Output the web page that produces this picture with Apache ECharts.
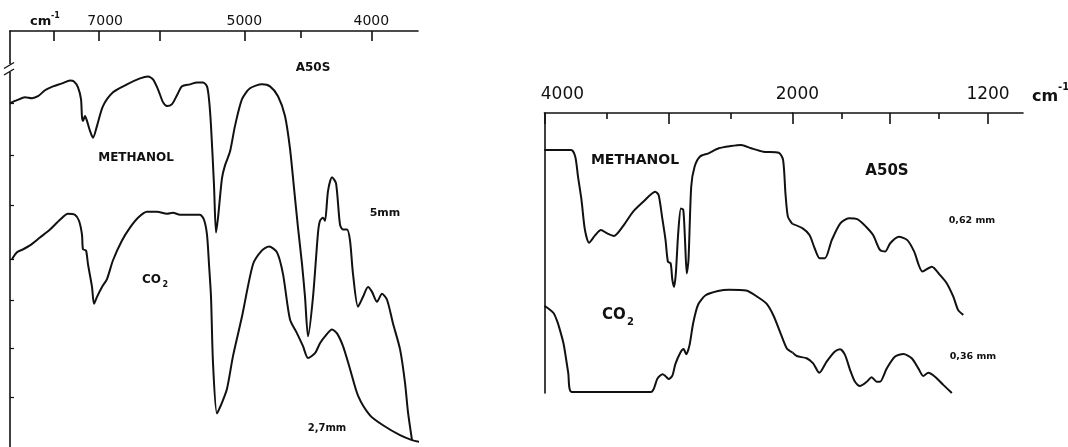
<!DOCTYPE html>
<html><head><meta charset="utf-8">
<script src="https://cdn.jsdelivr.net/npm/echarts@6/dist/echarts.min.js"></script>
<style>html,body{margin:0;padding:0;background:#fff}#c{width:1068px;height:447px}</style>
</head><body><div id="c"></div>
<script>
// ---------- Left panel (A50S, 5 mm / 2,7 mm) : x = wavelength (µm), the recorder axis is linear in wavelength ----------
const leftMethanolWavelength = [1.0776,1.1051,1.1366,1.1642,1.1878,1.2154,1.2469,1.2823,1.3138,1.3295,1.3453,1.3571,1.3610,1.3650,1.3728,1.3807,1.3925,1.4043,1.4201,1.4437,1.4831,1.5382,1.5894,1.6209,1.6406,1.6602,1.6799,1.6957,1.7154,1.7350,1.7547,1.7862,1.8138,1.8374,1.8531,1.8610,1.8689,1.8807,1.8886,1.8965,1.9122,1.9240,1.9437,1.9634,1.9909,2.0224,2.0697,2.1012,2.1327,2.1602,2.1799,2.1957,2.2114,2.2272,2.2390,2.2508,2.2705,2.2902,2.2980,2.3098,2.3177,2.3295,2.3453,2.3610,2.3768,2.3886,2.4043,2.4161,2.4280,2.4476,2.4673,2.4870,2.5028,2.5224,2.5421,2.5618,2.5854,2.6130,2.6327,2.6445,2.6602];
const leftMethanolSignal = [69.6,70.2,70.8,70.6,71.0,72.2,73.0,73.6,74.2,74.0,72.8,70.4,66.8,66.0,67.0,66.0,64.0,62.6,65.0,69.0,71.8,73.4,74.6,75.0,74.4,72.4,69.8,69.0,69.4,71.2,73.0,73.4,73.8,73.8,73.0,70.4,65.0,53.0,43.4,46.4,54.4,57.0,59.8,65.0,70.4,72.6,73.4,73.0,71.0,67.0,60.4,52.4,44.4,37.0,30.4,22.4,30.4,43.4,45.8,46.4,45.8,51.8,54.6,53.4,45.0,44.0,44.0,41.8,35.0,28.4,30.4,32.4,31.4,29.4,31.0,29.8,25.0,19.8,13.0,7.0,1.4];
const leftCO2Wavelength = [1.0854,1.1051,1.1287,1.1563,1.1957,1.2350,1.2744,1.3059,1.3335,1.3492,1.3610,1.3650,1.3768,1.3846,1.4004,1.4083,1.4201,1.4398,1.4594,1.4831,1.5185,1.5500,1.5815,1.6169,1.6563,1.6957,1.7193,1.7469,1.7980,1.8256,1.8413,1.8531,1.8610,1.8689,1.8768,1.8925,1.9122,1.9319,1.9555,1.9909,2.0343,2.0697,2.0972,2.1287,2.1524,2.1799,2.2075,2.2311,2.2508,2.2783,2.2980,2.3177,2.3453,2.3650,2.3886,2.4161,2.4476,2.4949,2.5461,2.6130,2.6602,2.6917];
const leftCO2Signal = [38.0,39.4,40.0,40.8,42.4,44.0,46.0,47.2,47.0,45.8,43.0,40.0,39.8,37.0,32.4,29.0,30.4,32.4,34.0,37.8,41.8,44.4,46.4,47.6,47.6,47.2,47.4,47.0,47.0,47.0,46.0,43.0,37.0,30.4,17.0,6.8,9.0,11.8,18.4,26.4,37.0,39.8,40.6,39.4,35.0,25.8,23.0,20.4,18.0,19.0,21.0,22.4,23.8,23.0,20.4,15.8,10.4,6.4,4.4,2.4,1.4,1.0];
const leftMajorTickWavenumbers = [8000,7000,6000,5000,4000];
const leftMinorTickWavenumbers = [4500];
const leftLabelWavenumbers = [7000,5000,4000];
const leftYTicks = [10,20,29.8,38,49,59,69.6];

// ---------- Right panel (A50S, 0,62 mm / 0,36 mm) : x = wavenumber (cm-1), scale doubles below 2000 ----------
const rightMethanolWavenumber = [4000,3784,3751,3729,3701,3673,3640,3590,3544,3494,3439,3369,3286,3203,3106,3079,3051,3023,3004,2982,2968,2954,2940,2921,2899,2880,2866,2852,2838,2816,2789,2747,2677,2594,2497,2414,2332,2235,2110,2075,2056,2036,2000,1958,1930,1909,1888,1867,1839,1804,1769,1733,1699,1670,1642,1621,1600,1565,1530,1502,1468,1430,1396,1369,1342,1322,1301];
const rightMethanolSignal = [86.8,86.8,84.4,77.3,69.0,58.2,53.7,56.4,58.2,57.0,56.1,59.4,64.7,68.3,71.9,70.7,62.9,54.6,46.9,46.3,40.4,37.9,42.7,57.0,65.9,65.4,54.6,42.7,47.5,73.7,80.8,84.4,85.6,87.4,88.2,88.6,87.4,86.2,85.8,83.2,71.3,62.9,60.4,58.8,56.4,51.7,48.1,48.1,54.6,60.6,62.4,62.0,59.4,56.4,51.1,50.5,53.5,55.8,54.6,50.5,43.4,45.1,42.1,39.2,34.4,29.6,27.9];
const rightCO2Wavenumber = [4000,3963,3925,3900,3878,3845,3808,3780,3140,3088,3046,3023,2998,2968,2944,2904,2877,2857,2830,2800,2760,2700,2600,2512,2373,2277,2207,2152,2097,2046,2000,1982,1942,1915,1890,1860,1826,1805,1785,1764,1744,1724,1696,1676,1655,1642,1614,1580,1546,1512,1485,1465,1444,1417,1383,1348];
const rightCO2Signal = [31.1,30.0,28.5,26.0,23.0,17.5,7.3,0.4,0.4,5.2,6.7,6.0,5.0,6.2,10.3,14.4,15.7,13.8,17.0,25.0,31.6,34.9,36.4,36.9,36.6,34.2,31.8,27.6,21.5,16.0,14.5,13.2,12.4,10.6,7.2,11.2,14.8,15.6,13.6,8.2,4.0,2.5,4.0,5.6,4.0,4.0,8.8,13.0,13.9,12.4,8.8,6.1,7.2,5.8,2.9,0.0];
const rightMajorTicks = [4000,3000,2000,1600,1200];
const rightMinorTicks = [3500,2500,1800,1400];
const rightLabels = [4000,2000,1200];

// ---------- build ----------
const INK = '#111';
const FONT = 'DejaVu Sans';
function pairs(xs, ys, keep) {
  const out = [];
  for (let i = 0; i < xs.length; i++) if (!keep || keep(xs[i])) out.push([xs[i], ys[i]]);
  return out;
}
const toUm = n => 1e4 / n;

function xAxisBase(grid, min, max, inverse) {
  return {
    type: 'value', gridIndex: grid, min: min, max: max, inverse: inverse, position: 'top',
    axisLine: { show: true, onZero: false, lineStyle: { color: INK, width: 1.6 } },
    splitLine: { show: false }
  };
}
function minorAxis(grid, min, max, inverse, ticks, len) {
  const a = xAxisBase(grid, min, max, inverse);
  a.axisLine = { show: false, onZero: false };
  a.axisLabel = { show: false };
  a.axisTick = { show: true, inside: true, length: len, customValues: ticks, lineStyle: { color: INK, width: 1.6 } };
  return a;
}
function richPad(size, left) {
  return { padding: [0, 0, 0, left], fontSize: size, fontFamily: FONT, color: INK };
}

const LMIN = 1.0776, LMAX = 2.6838;
const ax0 = xAxisBase(0, LMIN, LMAX, false);
ax0.axisTick = { show: true, inside: true, length: 10, customValues: leftMajorTickWavenumbers.map(toUm), lineStyle: { color: INK, width: 1.6 } };
ax0.axisLabel = { show: true, customValues: leftLabelWavenumbers.map(toUm),
  formatter: v => { const n = Math.round(1e4 / v); return n === 7000 ? '{s|7000}' : String(n); },
  rich: { s: richPad(14, 12) },
  color: INK, fontFamily: FONT, fontSize: 14, margin: 3 };
const ax1 = minorAxis(0, LMIN, LMAX, false, leftMinorTickWavenumbers.map(toUm), 7);

const ax2 = xAxisBase(1, 2000, 4000, true);
ax2.axisTick = { show: true, inside: true, length: 11, customValues: rightMajorTicks.filter(v => v >= 2000), lineStyle: { color: INK, width: 1.6 } };
ax2.axisLabel = { show: true, customValues: rightLabels.filter(v => v >= 2000),
  formatter: v => v === 4000 ? '{l|4000}' : '{m|' + String(v) + '}',
  rich: { l: richPad(17, 36), m: richPad(17, 10) },
  color: INK, fontFamily: FONT, fontSize: 17, margin: 10 };
const ax3 = minorAxis(1, 2000, 4000, true, rightMinorTicks.filter(v => v >= 2000), 6);

const RMIN2 = 1057;
const ax4 = xAxisBase(2, RMIN2, 2000, true);
ax4.axisTick = { show: true, inside: true, length: 11, customValues: rightMajorTicks.filter(v => v < 2000), lineStyle: { color: INK, width: 1.6 } };
ax4.axisLabel = { show: true, customValues: rightLabels.filter(v => v < 2000), formatter: v => String(v),
  color: INK, fontFamily: FONT, fontSize: 17, margin: 10 };
const ax5 = minorAxis(2, RMIN2, 2000, true, rightMinorTicks.filter(v => v < 2000), 6);

function yAxis(grid, max, showLine, ticks) {
  return {
    type: 'value', gridIndex: grid, min: 0, max: max,
    axisLine: { show: showLine, onZero: false, lineStyle: { color: INK, width: 1.6 } },
    axisTick: ticks ? { show: true, inside: true, length: 4, customValues: ticks, lineStyle: { color: INK, width: 1.2 } } : { show: false },
    axisLabel: { show: false }, splitLine: { show: false }
  };
}

function line(data, xi, yi) {
  return { type: 'line', data: data, xAxisIndex: xi, yAxisIndex: yi, showSymbol: false, symbol: 'none',
    smooth: 0.25, lineStyle: { color: INK, width: 2 }, silent: true, animation: false };
}

function txt(x, y, s, size, align) {
  return { type: 'text', x: x, y: y, z: 50, silent: true,
    style: { text: s, fill: INK, fontFamily: FONT, fontWeight: 'bold', fontSize: size,
      align: align || 'center', verticalAlign: 'middle', textAlign: align || 'center', textVerticalAlign: 'middle' } };
}

const option = {
  animation: false,
  backgroundColor: '#fff',
  grid: [
    { left: 10, top: 31, width: 408, height: 421 },
    { left: 544.4, top: 113, width: 248, height: 280 },
    { left: 792.4, top: 113, width: 230.6, height: 280 }
  ],
  xAxis: [ax0, ax1, ax2, ax3, ax4, ax5],
  yAxis: [yAxis(0, 84.2, true, leftYTicks), yAxis(1, 100, true, null), yAxis(2, 100, false, null)],
  series: [
    line(pairs(leftMethanolWavelength, leftMethanolSignal), 0, 0),
    line(pairs(leftCO2Wavelength, leftCO2Signal), 0, 0),
    line(pairs(rightMethanolWavenumber, rightMethanolSignal, v => v >= 2000), 2, 1),
    line(pairs(rightMethanolWavenumber, rightMethanolSignal, v => v <= 2000), 4, 2),
    line(pairs(rightCO2Wavenumber, rightCO2Signal, v => v >= 2000), 2, 1),
    line(pairs(rightCO2Wavenumber, rightCO2Signal, v => v <= 2000), 4, 2)
  ],
  graphic: [
    // axis break on the left panel's vertical axis
    { type: 'rect', z: 60, silent: true, shape: { x: 7, y: 64, width: 6, height: 8 }, style: { fill: '#fff' } },
    { type: 'line', z: 61, silent: true, shape: { x1: 4, y1: 68.5, x2: 14, y2: 62.5 }, style: { stroke: INK, lineWidth: 1.4 } },
    { type: 'line', z: 61, silent: true, shape: { x1: 4, y1: 75, x2: 14, y2: 69 }, style: { stroke: INK, lineWidth: 1.4 } },
    // left panel texts
    txt(30, 22, 'cm', 13, 'left'),
    txt(51, 16, '-1', 8, 'left'),
    txt(313, 68, 'A50S', 12),
    txt(136, 158, 'METHANOL', 12),
    txt(385, 213, '5mm', 11),
    txt(142, 280, 'CO', 12, 'left'),
    txt(162.5, 284.5, '2', 8, 'left'),
    txt(327, 428, '2,7mm', 10),
    // right panel texts
    txt(1032, 97, 'cm', 16, 'left'),
    txt(1058, 87, '-1', 10, 'left'),
    txt(635, 160, 'METHANOL', 14),
    txt(887, 171, 'A50S', 15),
    txt(972, 221, '0,62 mm', 9.5),
    txt(602, 315, 'CO', 15, 'left'),
    txt(627, 322, '2', 10, 'left'),
    txt(973, 357, '0,36 mm', 9.5)
  ]
};
const chart = echarts.init(document.getElementById('c'), null, { renderer: 'canvas' });
chart.setOption(option);
</script>
</body></html>
